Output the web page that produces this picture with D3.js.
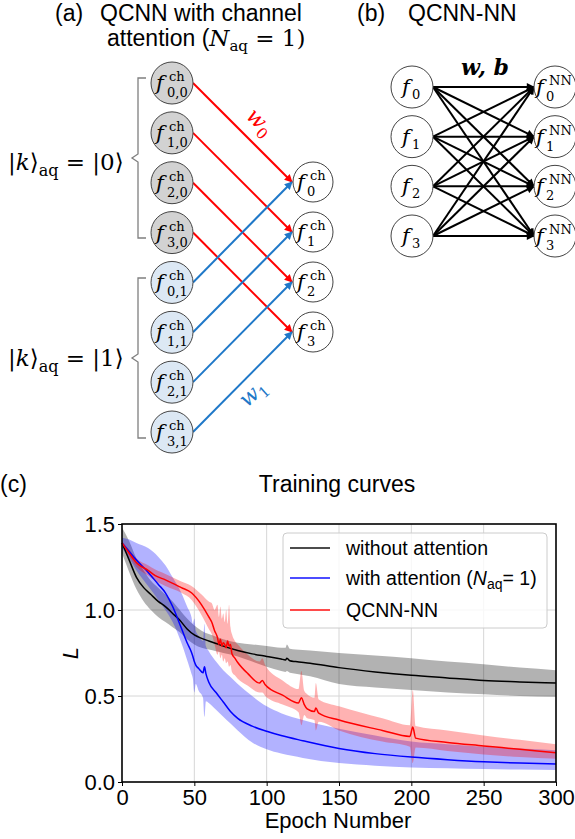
<!DOCTYPE html>
<html>
<head>
<meta charset="utf-8">
<script src="https://cdn.jsdelivr.net/npm/d3@7"></script>
<style>
body{margin:0;background:#fff}
text{font-family:"Liberation Sans",Arial,sans-serif;fill:#000}
.math{font-family:"DejaVu Serif","DejaVu Sans",serif}
</style>
</head>
<body>
<svg id="fig"></svg>
<script>
// training curves (epoch, mean, band low/high)
const blackEpoch = [0,5,10,15,20,25,30,35,40,45,50,55,60,65,70,80,90,100,110,113,114,116,120,130,150,175,200,225,250,275,300];
const blackMean  = [1.39,1.29,1.19,1.13,1.09,1.05,1.02,0.98,0.94,0.89,0.855,0.835,0.82,0.805,0.79,0.765,0.745,0.73,0.715,0.71,0.72,0.705,0.70,0.69,0.665,0.64,0.62,0.605,0.59,0.582,0.575];
const blackHigh  = [1.48,1.40,1.30,1.23,1.17,1.13,1.09,1.05,1.00,0.95,0.91,0.88,0.86,0.845,0.83,0.81,0.80,0.79,0.78,0.78,0.80,0.775,0.77,0.765,0.75,0.735,0.72,0.70,0.685,0.665,0.65];
const blackLow   = [1.33,1.22,1.12,1.05,1.00,0.96,0.93,0.90,0.87,0.83,0.80,0.78,0.77,0.76,0.75,0.73,0.70,0.67,0.645,0.64,0.645,0.635,0.63,0.615,0.57,0.55,0.535,0.52,0.51,0.50,0.495];

const blueEpoch = [0,5,10,18,25,30,35,41,45,48,49,50,51,53,56,57,58,60,65,70,75,80,90,100,110,125,150,175,200,225,250,275,300];
const blueMean  = [1.39,1.34,1.29,1.22,1.15,1.10,1.02,0.895,0.81,0.755,0.73,0.70,0.68,0.66,0.635,0.67,0.63,0.58,0.52,0.465,0.41,0.37,0.325,0.295,0.27,0.24,0.195,0.165,0.145,0.13,0.118,0.11,0.105];
const blueHigh  = [1.42,1.41,1.39,1.36,1.31,1.26,1.19,1.10,1.02,0.96,0.92,0.95,0.88,0.85,0.82,0.92,0.79,0.76,0.70,0.65,0.61,0.57,0.50,0.44,0.40,0.36,0.31,0.27,0.235,0.22,0.205,0.195,0.185];
const blueLow   = [1.36,1.30,1.23,1.14,1.06,1.00,0.93,0.81,0.71,0.63,0.60,0.52,0.57,0.53,0.49,0.38,0.47,0.46,0.42,0.38,0.34,0.30,0.23,0.19,0.165,0.14,0.11,0.095,0.085,0.08,0.075,0.072,0.07];

const redEpoch = [0,5,10,18,23,30,41,48,55,60,62,64,66,67,68,69,70,71,72,73,74,75,76,78,80,87,95,97,99,111,122,124,126,128,133,134,136,150,180,199,201,203,225,250,275,300];
const redMean  = [1.39,1.33,1.275,1.23,1.20,1.175,1.13,1.10,1.03,0.96,0.93,0.88,0.84,0.80,0.83,0.79,0.81,0.80,0.78,0.82,0.79,0.80,0.745,0.72,0.695,0.63,0.575,0.59,0.565,0.505,0.46,0.49,0.45,0.425,0.41,0.43,0.40,0.36,0.30,0.265,0.32,0.255,0.23,0.21,0.19,0.17];
const redHigh  = [1.40,1.35,1.30,1.26,1.235,1.21,1.165,1.14,1.09,1.05,1.04,1.00,1.03,0.96,1.02,0.95,0.98,0.93,1.00,0.92,1.03,0.90,0.86,0.82,0.80,0.74,0.70,0.72,0.68,0.59,0.54,0.645,0.53,0.51,0.49,0.575,0.48,0.44,0.37,0.33,0.535,0.325,0.30,0.27,0.245,0.22];
const redLow   = [1.38,1.31,1.25,1.20,1.17,1.14,1.10,1.06,0.97,0.89,0.86,0.80,0.74,0.76,0.72,0.74,0.70,0.72,0.69,0.70,0.67,0.68,0.64,0.62,0.60,0.56,0.52,0.52,0.50,0.45,0.405,0.33,0.39,0.37,0.36,0.30,0.35,0.30,0.235,0.205,0.11,0.20,0.18,0.16,0.145,0.135];

const xTicks = [0,50,100,150,200,250,300];
const yTicks = [0,0.5,1.0,1.5];

const W = 575, H = 839;
const svg = d3.select("#fig").attr("width", W).attr("height", H);

const RED = "#ff0000", BLUE = "#1f78c8";

// markers
const defs = svg.append("defs");
function marker(id, color){
  defs.append("marker").attr("id", id)
    .attr("viewBox","0 0 10 10").attr("refX",9).attr("refY",5)
    .attr("markerWidth",9).attr("markerHeight",8)
    .attr("markerUnits","userSpaceOnUse").attr("orient","auto")
    .append("path").attr("d","M0,0 L10,5 L0,10 z").attr("fill", color);
}
marker("arR", RED); marker("arB", BLUE); marker("arK", "#000");

// f with stacked super/subscript
function fLabel(g, cx, cy, sup, sub, dxF, dxSup, dxSub){
  g.append("text").attr("class","math").attr("x",cx+dxF).attr("y",cy+7)
    .attr("font-style","italic").attr("font-size",21).text("f");
  if(sup) g.append("text").attr("class","math").attr("x",cx+dxSup).attr("y",cy-2).attr("font-size",13).text(sup);
  g.append("text").attr("class","math").attr("x",cx+dxSub).attr("y",cy+14).attr("font-size",13).text(sub);
}

// ---------- panel (a)
const ga = svg.append("g");
ga.append("text").attr("x",55).attr("y",21).attr("font-size",23).text("(a)");
ga.append("text").attr("x",100).attr("y",21).attr("font-size",23).text("QCNN with channel");
const t2 = ga.append("text").attr("x",107).attr("y",46).attr("font-size",23);
t2.append("tspan").text("attention (");
t2.append("tspan").attr("class","math").attr("font-style","italic").text("N");
t2.append("tspan").attr("class","math").attr("font-size",15).attr("dy",5).text("aq");
t2.append("tspan").attr("class","math").attr("dy",-5).text(" = 1)");

const leftX = 172, rightX = 313, R = 21;
const rowA = d3.scaleLinear().domain([0,7]).range([83,432]);
const rowAr = d3.scaleLinear().domain([0,3]).range([182,332]);
const idx = [0,1,2,3];

// arrows
idx.forEach(i => {
  ga.append("line").attr("x1",leftX+R).attr("y1",rowA(i)).attr("x2",rightX-R).attr("y2",rowAr(i))
    .attr("stroke",RED).attr("stroke-width",2).attr("marker-end","url(#arR)");
});
idx.forEach(i => {
  ga.append("line").attr("x1",leftX+R).attr("y1",rowA(i+4)).attr("x2",rightX-R).attr("y2",rowAr(i))
    .attr("stroke",BLUE).attr("stroke-width",2).attr("marker-end","url(#arB)");
});

// nodes
d3.range(8).forEach(k => {
  ga.append("circle").attr("cx",leftX).attr("cy",rowA(k)).attr("r",R)
    .attr("fill", k < 4 ? "#d2d2d2" : "#dce8f4").attr("stroke","#444").attr("stroke-width",1);
  fLabel(ga, leftX, rowA(k), "ch", (k%4)+"," + (k<4?0:1), -16, -3, -5);
});
idx.forEach(i => {
  ga.append("circle").attr("cx",rightX).attr("cy",rowAr(i)).attr("r",R-1)
    .attr("fill","#fff").attr("stroke","#444").attr("stroke-width",1);
  fLabel(ga, rightX, rowAr(i), "ch", String(i), -16, -3, -6);
});

// weight labels
const w0 = ga.append("text").attr("class","math").attr("fill",RED).attr("font-size",22)
  .attr("transform","translate(245,117) rotate(45)");
w0.append("tspan").attr("font-style","italic").attr("fill",RED).text("w");
w0.append("tspan").attr("font-size",15).attr("dy",5).attr("fill",RED).text("0");
const w1 = ga.append("text").attr("class","math").attr("font-size",22)
  .attr("transform","translate(247,408) rotate(-42)");
w1.append("tspan").attr("font-style","italic").attr("fill",BLUE).text("w");
w1.append("tspan").attr("font-size",15).attr("dy",5).attr("fill",BLUE).text("1");

// braces
function brace(y0, y1){
  const m = (y0+y1)/2, x = 138;
  ga.append("path").attr("d",`M${x+8},${y0} H${x} V${m-4} L${x-6},${m} L${x},${m+4} V${y1} H${x+8}`)
    .attr("fill","none").attr("stroke","#7f7f7f").attr("stroke-width",1.3);
}
brace(78, 238);
brace(278, 438);

function ketLabel(y, v){
  const t = ga.append("text").attr("class","math").attr("x",8).attr("y",y).attr("font-size",23);
  t.append("tspan").text("|");
  t.append("tspan").attr("font-style","italic").text("k");
  t.append("tspan").text("\u27E9");
  t.append("tspan").attr("font-size",16).attr("dy",6).text("aq");
  t.append("tspan").attr("dy",-6).text(" = |" + v + "\u27E9");
}
ketLabel(170, 0);
ketLabel(366, 1);

// ---------- panel (b)
const gb = svg.append("g");
gb.append("text").attr("x",357).attr("y",21).attr("font-size",23).text("(b)");
gb.append("text").attr("x",408).attr("y",21).attr("font-size",23).text("QCNN-NN");
const bx0 = 412, bx1 = 555;
const rowB = d3.scaleLinear().domain([0,3]).range([87,236]);
idx.forEach(i => idx.forEach(j => {
  gb.append("line").attr("x1",bx0+R).attr("y1",rowB(i)).attr("x2",bx1-R).attr("y2",rowB(j))
    .attr("stroke","#000").attr("stroke-width",2).attr("marker-end","url(#arK)");
}));
idx.forEach(i => {
  gb.append("circle").attr("cx",bx0).attr("cy",rowB(i)).attr("r",R).attr("fill","#fff").attr("stroke","#444");
  gb.append("text").attr("class","math").attr("x",bx0-10).attr("y",rowB(i)+7)
    .attr("font-style","italic").attr("font-size",21).text("f");
  gb.append("text").attr("class","math").attr("x",bx0).attr("y",rowB(i)+12).attr("font-size",13).text(String(i));
  gb.append("circle").attr("cx",bx1).attr("cy",rowB(i)).attr("r",R).attr("fill","#fff").attr("stroke","#444");
  fLabel(gb, bx1, rowB(i), "NN", String(i), -19, -6, -9);
});
gb.append("text").attr("class","math").attr("x",485).attr("y",75).attr("text-anchor","middle")
  .attr("font-size",22).attr("font-weight","bold").attr("font-style","italic").text("w, b");

// ---------- panel (c)
const gc = svg.append("g");
gc.append("text").attr("x",0).attr("y",492).attr("font-size",23).text("(c)");
gc.append("text").attr("x",337).attr("y",492).attr("text-anchor","middle").attr("font-size",23).text("Training curves");

const x = d3.scaleLinear().domain([0,300]).range([122,556]);
const y = d3.scaleLinear().domain([0,1.5]).range([782,524]);

// grid
gc.append("g").selectAll("line").data(xTicks.slice(1,-1)).join("line")
  .attr("x1",d=>x(d)).attr("x2",d=>x(d)).attr("y1",y(0)).attr("y2",y(1.5))
  .attr("stroke","#d6d6d6").attr("stroke-width",1);
gc.append("g").selectAll("line").data(yTicks.slice(1,-1)).join("line")
  .attr("x1",x(0)).attr("x2",x(300)).attr("y1",d=>y(d)).attr("y2",d=>y(d))
  .attr("stroke","#d6d6d6").attr("stroke-width",1);

const series = [
  {e:blackEpoch, m:blackMean, lo:blackLow, hi:blackHigh, c:"#000"},
  {e:blueEpoch, m:blueMean, lo:blueLow, hi:blueHigh, c:"#0000ff"},
  {e:redEpoch, m:redMean, lo:redLow, hi:redHigh, c:"#ff0000"}
];
const area = d3.area().curve(d3.curveMonotoneX);
const line = d3.line().curve(d3.curveMonotoneX);
series.forEach(s => {
  const pts = s.e.map((ep,i) => [x(ep), y(s.lo[i]), y(s.hi[i])]);
  gc.append("path").attr("d", area.x(p=>p[0]).y0(p=>p[1]).y1(p=>p[2])(pts))
    .attr("fill", s.c).attr("fill-opacity",0.3).attr("stroke","none");
});
series.forEach(s => {
  gc.append("path").attr("d", line.x(p=>x(p[0])).y(p=>y(p[1]))(s.e.map((ep,i)=>[ep,s.m[i]])))
    .attr("fill","none").attr("stroke", s.c).attr("stroke-width",1.5);
});

// axes
const ax = gc.append("g").attr("transform",`translate(0,${y(0)})`)
  .call(d3.axisBottom(x).tickValues(xTicks).tickSize(4).tickPadding(3).tickFormat(d3.format("d")));
const ay = gc.append("g").attr("transform",`translate(${x(0)},0)`)
  .call(d3.axisLeft(y).tickValues(yTicks).tickSize(4).tickPadding(3).tickFormat(d3.format(".1f")));
[ax, ay].forEach(a => {
  a.select(".domain").remove();
  a.selectAll("text").attr("font-size",22).attr("font-family","Liberation Sans, Arial, sans-serif").attr("fill","#000");
  a.selectAll("line").attr("stroke","#000");
});
ay.selectAll("text").attr("dy","0.36em");
gc.append("rect").attr("x",x(0)).attr("y",y(1.5)).attr("width",x(300)-x(0)).attr("height",y(0)-y(1.5))
  .attr("fill","none").attr("stroke","#000").attr("stroke-width",1.6);

gc.append("text").attr("x",338).attr("y",828).attr("text-anchor","middle").attr("font-size",22).text("Epoch Number");
gc.append("text").attr("transform","translate(78,653) rotate(-90)").attr("text-anchor","middle")
  .attr("font-size",22).attr("font-style","italic").attr("font-family","DejaVu Sans, sans-serif").text("L");

// legend
const lg = gc.append("g");
lg.append("rect").attr("x",283).attr("y",533).attr("width",264).attr("height",95).attr("rx",4)
  .attr("fill","#fff").attr("fill-opacity",0.8).attr("stroke","#cccccc");
const legY = [548, 578, 610];
series.forEach((s,i) => {
  lg.append("line").attr("x1",290).attr("x2",330).attr("y1",legY[i]).attr("y2",legY[i])
    .attr("stroke",s.c).attr("stroke-width",2).attr("stroke-opacity",0.7);
});
lg.append("text").attr("x",346).attr("y",legY[0]+7).attr("font-size",19.5).text("without attention");
const lt = lg.append("text").attr("x",346).attr("y",legY[1]+7).attr("font-size",19.5);
lt.append("tspan").text("with attention (");
lt.append("tspan").attr("font-style","italic").text("N");
lt.append("tspan").attr("font-size",14).attr("dy",4).text("aq");
lt.append("tspan").attr("dy",-4).text("= 1)");
lg.append("text").attr("x",346).attr("y",legY[2]+7).attr("font-size",19.5).text("QCNN-NN");
</script>
</body>
</html>
